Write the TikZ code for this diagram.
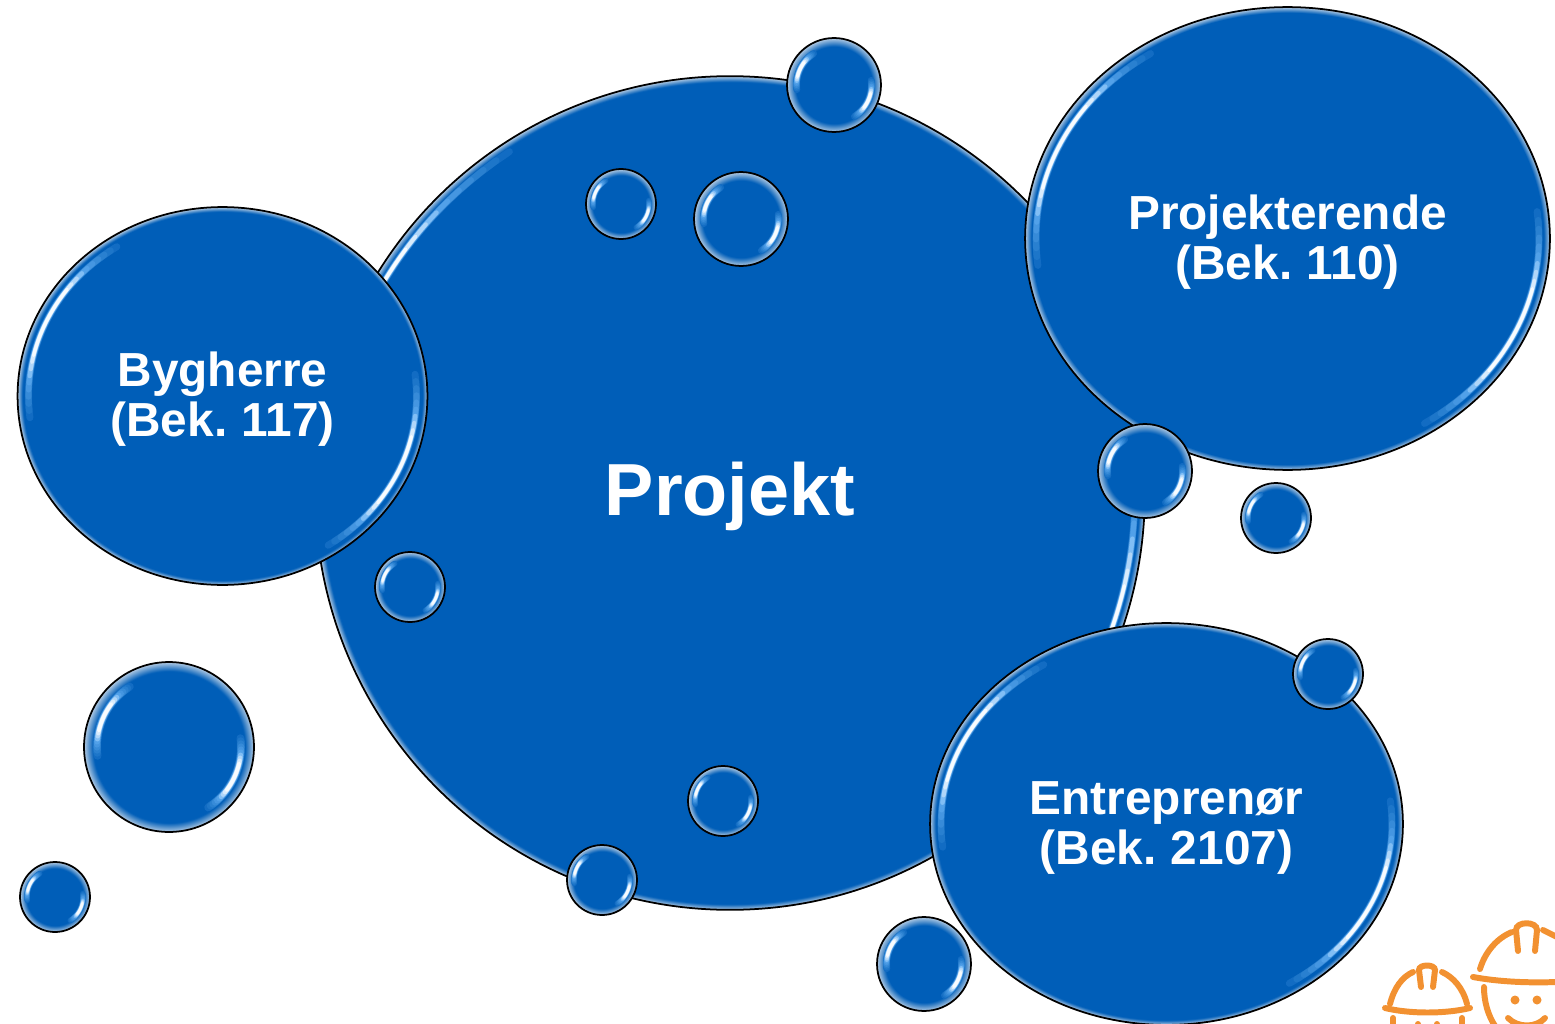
\documentclass[tikz,border=0pt]{standalone}
\usepackage{fontspec}
\setmainfont{Liberation Sans}
\usetikzlibrary{shapes.geometric}
\definecolor{boble}{HTML}{005EB8}
\definecolor{rand}{HTML}{B4CCE4}
\definecolor{glans}{HTML}{62AEF2}
\definecolor{hjelm}{HTML}{F29131}
\pgfdeclareradialshading{kantstorst}{\pgfpoint{0bp}{0bp}}{color(0bp)=(boble); color(24.65bp)=(boble); color(25bp)=(rand); color(50bp)=(rand)}
\pgfdeclareradialshading{kantstor}{\pgfpoint{0bp}{0bp}}{color(0bp)=(boble); color(24.4bp)=(boble); color(25bp)=(rand); color(50bp)=(rand)}
\pgfdeclareradialshading{kantmellem}{\pgfpoint{0bp}{0bp}}{color(0bp)=(boble); color(22.3bp)=(boble); color(25bp)=(rand); color(50bp)=(rand)}
\pgfdeclareradialshading{kantlille}{\pgfpoint{0bp}{0bp}}{color(0bp)=(boble); color(20.5bp)=(boble); color(25bp)=(rand); color(50bp)=(rand)}
\tikzset{
    bobleform/.style={ellipse,draw=black,line width=1pt,inner sep=0pt,outer sep=0pt,shade},
    bobletekst/.style={text=white,align=center,inner sep=0pt,font=\fontsize{27.2pt}{28.45pt}\selectfont\bfseries},
    hjelmstreg/.style={draw=hjelm,line width=3.4pt,line cap=round},
}
% navn, x, y, rx, ry, kant, indrykning, bredde
\newcommand{\boblen}[8]{
    \node[bobleform,shading=#6,minimum width=#4*0.04cm,minimum height=#5*0.04cm] (#1) at (#2,#3) {};
    \foreach \midt in {155,-25}{
        \foreach \lag/\lys/\hvid in {0/18/0,1/30/0,2/42/0,3/56/0,4/70/0,5/84/0,6/100/20,7/100/50,8/100/75,9/100/95}{
            \pgfmathsetmacro{\fra}{\midt-32*(1-\lag*0.07)}
            \pgfmathsetmacro{\til}{\midt+32*(1-\lag*0.07)}
            \pgfmathsetmacro{\tyk}{#8*(1-\lag*0.06)*0.5669}
            \draw[white!\hvid!glans!\lys!boble,line cap=round,line width=\tyk pt,shift={(#2,#3)}]
                plot[domain=\fra:\til,samples=24] ({(#4-#7)*cos(\x)},{-(#5-#7)*sin(\x)});
        }
    }
}
\begin{document}
\begin{tikzpicture}[x=0.02cm,y=-0.02cm]
    \clip (0,0) rectangle (1555,1024);

    %Store bobler
        \boblen{projekt}{730}{493}{415}{417}{kantstorst}{10}{7}
        \boblen{bygherre}{222.5}{396}{205}{189}{kantstor}{11}{7}
        \boblen{projekterende}{1287.5}{238.5}{262.5}{231.5}{kantstor}{11}{7}
        \boblen{entreprenor}{1166.5}{824}{236.5}{201}{kantstor}{11}{7}

    %Tekst
        \node[bobletekst,font=\fontsize{42pt}{46pt}\selectfont\bfseries] (projekttekst) at (730,496) {Projekt};
        \node[bobletekst] (bygherretekst) at (222.5,399) {Bygherre\\(Bek.\hspace{-0.07cm} 117)};
        \node[bobletekst] (projekterendetekst) at (1287.5,242.5) {Projekterende\\(Bek.\hspace{-0.07cm} 110)};
        \node[bobletekst] (entreprenortekst) at (1166.5,828) {Entreprenør\\(Bek.\hspace{-0.07cm} 2107)};

    %Hjelme
        \draw[hjelmstreg] (1385,1008) .. controls (1410,1014) and (1445,1014) .. (1470,1008);
        \draw[hjelmstreg] (1390,1004) .. controls (1394,988) and (1402,977) .. (1413,972);
        \draw[hjelmstreg] (1442,972) .. controls (1453,977) and (1463,988) .. (1467,1004);
        \draw[hjelmstreg] (1421,987)--(1419,970) .. controls (1419,964) and (1435,964) .. (1435,970)--(1433,987);
        \draw[hjelmstreg] (1393,1018)--(1393,1026);
        \draw[hjelmstreg] (1462,1018)--(1462,1026);
        \draw[hjelmstreg] (1473,977) .. controls (1500,982) and (1530,983) .. (1557,982);
        \draw[hjelmstreg] (1480,969) .. controls (1485,952) and (1497,938) .. (1512,932);
        \draw[hjelmstreg] (1543,930)--(1557,937);
        \draw[hjelmstreg] (1518,951)--(1516,930) .. controls (1516,921) and (1537,921) .. (1537,930)--(1535,951);
        \draw[hjelmstreg] (1484,987) .. controls (1484,1002) and (1488,1015) .. (1495,1026);
        \fill[hjelm] (1515,1000) circle (4.5);
        \fill[hjelm] (1537,1000) circle (4.5);
        \draw[hjelmstreg] (1508,1018) .. controls (1518,1028) and (1536,1028) .. (1545,1018);
        \fill[hjelm] (1418,1024) circle (3);
        \fill[hjelm] (1437,1024) circle (3);

    %Smaa bobler
        \foreach \navn/\px/\py/\pr/\pk/\pd/\pw in {a/834/85/47/kantlille/9.5/7,b/621/204/35/kantlille/7/5.5,c/741/219/47/kantlille/9.5/7,d/1145/471/47/kantlille/9.5/7,e/1276/518/35/kantlille/7/5.5,f/1328/674/35/kantlille/7/5.5,g/410/587/35/kantlille/7/5.5,h/723/801/35/kantlille/7/5.5,i/602/880/35/kantlille/7/5.5,j/924/964/47/kantlille/9.5/7,k/169/747/85/kantmellem/13/8,l/55/897/35/kantlille/7/5.5}{
            \boblen{lille\navn}{\px}{\py}{\pr}{\pr}{\pk}{\pd}{\pw}
        }
\end{tikzpicture}
\end{document}
